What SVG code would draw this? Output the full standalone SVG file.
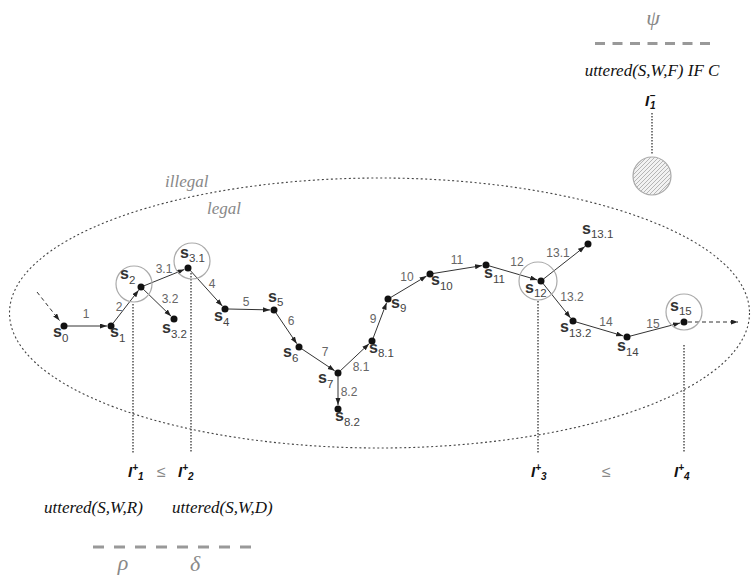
<svg xmlns="http://www.w3.org/2000/svg" width="752" height="581" viewBox="0 0 752 581">
<defs>
<marker id="ah" markerWidth="8" markerHeight="6" refX="7" refY="2.5" orient="auto" markerUnits="userSpaceOnUse"><path d="M0,0 L7,2.5 L0,5 z" fill="#222"/></marker>
<pattern id="hatch" width="4" height="4" patternUnits="userSpaceOnUse"><rect width="4" height="4" fill="#f2f2f2"/><path d="M-1,1 L1,-1 M0,4 L4,0 M3,5 L5,3" stroke="#b5b5b5" stroke-width="1"/></pattern>
</defs>
<style>
.dot{fill:#111}
.sl{font-family:"Liberation Sans",Arial,sans-serif;font-size:16px;font-weight:bold;fill:#333}
.sub{font-size:11.5px;font-weight:normal;fill:#444}
.el{font-family:"Liberation Sans",Arial,sans-serif;font-size:12px;fill:#666;text-anchor:middle}
.e{stroke:#333;stroke-width:1;fill:none;marker-end:url(#ah)}
.ed{stroke:#333;stroke-width:1;fill:none;stroke-dasharray:4,3;marker-end:url(#ah)}
.hl{fill:none;stroke:#aaa;stroke-width:1.2}
.vl{stroke:#444;stroke-width:1.4;stroke-dasharray:1.5,1.5}
.it{font-family:"Liberation Serif","Times New Roman",serif;font-style:italic;font-size:17px;fill:#111}
.gr{font-family:"Liberation Serif","Times New Roman",serif;font-style:italic;font-size:22px;fill:#888}
.lg{font-family:"Liberation Serif","Times New Roman",serif;font-style:italic;font-size:17px;fill:#888}
.il{font-family:"Liberation Sans",Arial,sans-serif;font-weight:bold;font-style:italic;font-size:15px;fill:#111}
.ils{font-size:10px}
.le{font-family:"Liberation Sans",Arial,sans-serif;font-size:16px;fill:#888}
.dash{stroke:#999;stroke-width:3}
</style>

<g id="regions">
<ellipse cx="379.5" cy="313" rx="370" ry="135" fill="none" stroke="#444" stroke-width="1.1" stroke-dasharray="2,2.5"/>
<text class="lg" x="165" y="187">illegal</text>
<text class="lg" x="207" y="214">legal</text>
</g>

<g id="connectors">
<line class="ed" x1="37" y1="292" x2="59.5" y2="320.5"/>
<line class="e" x1="67" y1="326" x2="107" y2="326" stroke-width="1.6"/>
<line class="e" x1="112.8" y1="323.6" x2="138.6" y2="290.2"/>
<line class="e" x1="143.8" y1="285.9" x2="184.3" y2="269.5"/>
<line class="e" x1="143.2" y1="289.1" x2="171.1" y2="316.2"/>
<line class="e" x1="190" y1="270.2" x2="222.3" y2="306"/>
<line class="e" x1="228" y1="309" x2="270" y2="309.9"/>
<line class="e" x1="275.7" y1="312.5" x2="296.8" y2="343.7"/>
<line class="e" x1="301.5" y1="348.7" x2="334.7" y2="370.8"/>
<line class="e" x1="340.2" y1="370.9" x2="369.1" y2="343.7"/>
<line class="e" x1="338" y1="376" x2="338" y2="405"/>
<line class="e" x1="373.1" y1="338.2" x2="386.6" y2="302.7"/>
<line class="e" x1="390.6" y1="297.5" x2="426.6" y2="276"/>
<line class="e" x1="433" y1="273.5" x2="482" y2="265.6"/>
<line class="e" x1="488.9" y1="265.8" x2="537.2" y2="279.9"/>
<line class="e" x1="543.4" y1="279.1" x2="584.9" y2="246.5"/>
<line class="e" x1="542.9" y1="283.3" x2="570.5" y2="317.9"/>
<line class="e" x1="575.9" y1="321.9" x2="623.2" y2="335.9"/>
<line class="e" x1="629.9" y1="336.2" x2="680.1" y2="323"/>
<line class="ed" x1="688" y1="322" x2="738" y2="322" stroke-dasharray="5,4"/>
<line class="vl" x1="133" y1="304" x2="133" y2="453"/>
<line class="vl" x1="191" y1="273" x2="191" y2="453"/>
<line class="vl" x1="538" y1="301" x2="538" y2="453"/>
<line class="vl" x1="684" y1="345" x2="684" y2="453"/>
<line class="vl" x1="652" y1="113" x2="652" y2="155"/>
</g>

<g id="edge-labels">
<text class="el" x="86" y="318">1</text>
<text class="el" x="119" y="311">2</text>
<text class="el" x="164" y="273">3.1</text>
<text class="el" x="170" y="303">3.2</text>
<text class="el" x="212" y="288">4</text>
<text class="el" x="246" y="306">5</text>
<text class="el" x="291" y="325">6</text>
<text class="el" x="325" y="356">7</text>
<text class="el" x="361" y="371">8.1</text>
<text class="el" x="349" y="396">8.2</text>
<text class="el" x="373" y="323">9</text>
<text class="el" x="407" y="281">10</text>
<text class="el" x="457" y="264">11</text>
<text class="el" x="517" y="266">12</text>
<text class="el" x="558" y="257">13.1</text>
<text class="el" x="572" y="301">13.2</text>
<text class="el" x="606" y="326">14</text>
<text class="el" x="653" y="328">15</text>
</g>

<g id="s0"><circle class="dot" cx="64" cy="326" r="3.5"/><text class="sl" x="53" y="337">s<tspan class="sub" dy="5">0</tspan></text></g>
<g id="s1"><circle class="dot" cx="111" cy="326" r="3.5"/><text class="sl" x="110" y="337">s<tspan class="sub" dy="5">1</tspan></text></g>
<g id="s2"><circle class="hl" cx="134" cy="284" r="18"/><circle class="dot" cx="141" cy="287" r="3.5"/><text class="sl" x="120" y="279">s<tspan class="sub" dy="5">2</tspan></text></g>
<g id="s3.1"><circle class="hl" cx="192" cy="261" r="18"/><circle class="dot" cx="188" cy="268" r="3.5"/><text class="sl" x="180" y="258">s<tspan class="sub" dy="4">3.1</tspan></text></g>
<g id="s3.2"><circle class="dot" cx="174" cy="319" r="3.5"/><text class="sl" x="162" y="333">s<tspan class="sub" dy="5">3.2</tspan></text></g>
<g id="s4"><circle class="dot" cx="225" cy="309" r="3.5"/><text class="sl" x="214" y="321">s<tspan class="sub" dy="5">4</tspan></text></g>
<g id="s5"><circle class="dot" cx="274" cy="310" r="3.5"/><text class="sl" x="268" y="302">s<tspan class="sub" dy="4">5</tspan></text></g>
<g id="s6"><circle class="dot" cx="299" cy="347" r="3.5"/><text class="sl" x="283" y="357">s<tspan class="sub" dy="5">6</tspan></text></g>
<g id="s7"><circle class="dot" cx="338" cy="373" r="3.5"/><text class="sl" x="318" y="383">s<tspan class="sub" dy="5">7</tspan></text></g>
<g id="s8.1"><circle class="dot" cx="372" cy="341" r="3.5"/><text class="sl" x="369" y="353">s<tspan class="sub" dy="4">8.1</tspan></text></g>
<g id="s8.2"><circle class="dot" cx="338" cy="409" r="3.5"/><text class="sl" x="335" y="421">s<tspan class="sub" dy="5">8.2</tspan></text></g>
<g id="s9"><circle class="dot" cx="388" cy="299" r="3.5"/><text class="sl" x="391" y="308">s<tspan class="sub" dy="4">9</tspan></text></g>
<g id="s10"><circle class="dot" cx="430" cy="274" r="3.5"/><text class="sl" x="431" y="285">s<tspan class="sub" dy="5">10</tspan></text></g>
<g id="s11"><circle class="dot" cx="486" cy="265" r="3.5"/><text class="sl" x="484" y="278">s<tspan class="sub" dy="5">11</tspan></text></g>
<g id="s12"><circle class="hl" cx="538" cy="281" r="19"/><circle class="dot" cx="541" cy="281" r="3.5"/><text class="sl" x="525" y="293">s<tspan class="sub" dy="4">12</tspan></text></g>
<g id="s13.1"><circle class="dot" cx="588" cy="244" r="3.5"/><text class="sl" x="582" y="234">s<tspan class="sub" dy="4">13.1</tspan></text></g>
<g id="s13.2"><circle class="dot" cx="573" cy="321" r="3.5"/><text class="sl" x="560" y="332">s<tspan class="sub" dy="5">13.2</tspan></text></g>
<g id="s14"><circle class="dot" cx="627" cy="337" r="3.5"/><text class="sl" x="617" y="351">s<tspan class="sub" dy="5">14</tspan></text></g>
<g id="s15"><circle class="hl" cx="684" cy="312" r="18"/><circle class="dot" cx="684" cy="322" r="3.5"/><text class="sl" x="670" y="311">s<tspan class="sub" dy="4">15</tspan></text></g>

<g id="illegal-state">
<circle cx="652" cy="176" r="19" fill="url(#hatch)" stroke="#aaa" stroke-width="1.2"/>
<text class="il" x="645" y="106">I<tspan class="ils" dy="-7">−</tspan><tspan class="ils" dx="-5" dy="10">1</tspan></text>
</g>

<g id="top-rule">
<text class="gr" x="653" y="25" text-anchor="middle">ψ</text>
<line class="dash" x1="595" y1="43.5" x2="710" y2="43.5" stroke-dasharray="10,7.5"/>
<text class="it" x="652" y="76" text-anchor="middle">uttered(S,W,F) IF C</text>
</g>

<g id="intervals">
<text class="il" x="128" y="477">I<tspan class="ils" dy="-6">+</tspan><tspan class="ils" dy="9">1</tspan></text>
<text class="le" x="157" y="477">≤</text>
<text class="il" x="178" y="477">I<tspan class="ils" dy="-6">+</tspan><tspan class="ils" dy="9">2</tspan></text>
<text class="il" x="531" y="477">I<tspan class="ils" dy="-6">+</tspan><tspan class="ils" dy="9">3</tspan></text>
<text class="le" x="602" y="477">≤</text>
<text class="il" x="674" y="477">I<tspan class="ils" dy="-6">+</tspan><tspan class="ils" dy="9">4</tspan></text>
</g>

<g id="bottom-rules">
<text class="it" x="44" y="513">uttered(S,W,R)</text>
<text class="it" x="172" y="513">uttered(S,W,D)</text>
<line class="dash" x1="93" y1="547" x2="252" y2="547" stroke-dasharray="11,10"/>
<text class="gr" x="123" y="570" text-anchor="middle">ρ</text>
<text class="gr" x="195" y="571" text-anchor="middle">δ</text>
</g>
</svg>
